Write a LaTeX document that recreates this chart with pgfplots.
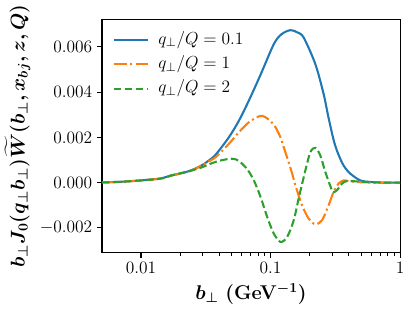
\documentclass[border=0pt]{standalone}
\usepackage{fix-cm}
\usepackage{amsmath}
\usepackage{bm}
\usepackage{pgfplots}
\pgfplotsset{compat=1.18}
\definecolor{tabblue}{HTML}{1F77B4}
\definecolor{taborange}{HTML}{FF7F0E}
\definecolor{tabgreen}{HTML}{2CA02C}
\begin{document}
\begin{tikzpicture}
\path (-72.5pt,-42.5pt) rectangle (226.3pt,182.2pt);
\begin{axis}[
  scale only axis, width=215.5pt, height=168.5pt,
  xmode=log, xmin=0.005, xmax=1, ymin=-0.0031, ymax=0.0072,
  xtick={0.01,0.1,1}, xticklabels={$0.01$,$0.1$,$1$},
  ytick={-0.002,0,0.002,0.004,0.006},
  scaled y ticks=false,
  yticklabel style={/pgf/number format/.cd, fixed, fixed zerofill, precision=3},
  tick align=outside, tick pos=left,
  major tick length=3.5pt, minor tick length=2pt,
  every tick/.style={black, line width=0.8pt},
  minor tick style={line width=0.6pt},
  axis line style={line width=0.8pt},
  ticklabel style={font=\fontsize{12.6}{15}\selectfont},
  label style={font=\fontsize{14.4}{17}\selectfont\boldmath},
  xlabel={$b_\perp$ \textbf{(GeV$^{-1}$)}},
  ylabel={$b_\perp J_0(q_\perp b_\perp)\widetilde{W}(b_\perp, x_{bj}, z, Q)$},
  legend style={draw=none, fill=none, at={(axis description cs:0,1)}, anchor=north west,
    xshift=7.5pt, yshift=-7.5pt, inner sep=0pt, row sep=3.6pt,
    font=\fontsize{12.6}{15}\selectfont,
    nodes={inner sep=1pt, text height=9pt, text depth=3pt},
    /tikz/every odd column/.append style={column sep=6pt}},
  legend cell align=left,
  legend image code/.code={\draw[#1] (0pt,0pt) -- (24.5pt,0pt);},
]
\addplot[tabblue, line width=1.5pt, smooth] table {
0.005 0.00001
0.00702 0.00004
0.010 0.00010
0.01425 0.00019
0.01701 0.00032
0.02031 0.00041
0.02424 0.00054
0.02894 0.00074
0.03306 0.00096
0.03775 0.00124
0.04777 0.00201
0.05705 0.00274
0.06808 0.00363
0.08377 0.00477
0.1060 0.00612
0.1215 0.00656
0.1425 0.00674
0.1613 0.00664
0.1804 0.00641
0.2219 0.00524
0.2570 0.00392
0.2793 0.00292
0.3069 0.00189
0.3274 0.00138
0.3561 0.00089
0.3775 0.00065
0.4125 0.00040
0.4924 0.00010
0.5878 0.00003
0.7667 0.00000
1.0 0.0
};
\addlegendentry{$q_\perp/Q = 0.1$}
\addplot[taborange, line width=1.5pt, smooth, dash pattern=on 9.6pt off 2.4pt on 1.5pt off 2.4pt] table {
0.005 0.00001
0.00702 0.00004
0.010 0.00010
0.01425 0.00018
0.01701 0.00031
0.02031 0.00040
0.02424 0.00052
0.02648 0.00062
0.03162 0.00087
0.03775 0.00113
0.04777 0.00172
0.05705 0.00223
0.06808 0.00267
0.08128 0.00293
0.08679 0.00295
0.09150 0.00289
0.1000 0.00272
0.1093 0.00245
0.1194 0.00200
0.1266 0.00156
0.1344 0.00111
0.1468 0.00041
0.1557 -0.00012
0.1753 -0.00100
0.1971 -0.00159
0.2219 -0.00184
0.2499 -0.00166
0.2807 -0.00100
0.3069 -0.00041
0.3353 -0.00004
0.3663 0.00010
0.4000 0.00007
0.4924 0.00002
0.7017 0.0
1.0 0.0
};
\addlegendentry{$q_\perp/Q = 1$}
\addplot[tabgreen, line width=1.5pt, smooth, dash pattern=on 5.55pt off 2.4pt] table {
0.005 0.00001
0.00702 0.00004
0.010 0.00010
0.01425 0.00018
0.01701 0.00031
0.02031 0.00042
0.02424 0.00053
0.02894 0.00066
0.03563 0.00087
0.04125 0.00098
0.04777 0.00105
0.05193 0.00105
0.05705 0.00096
0.0662 0.00059
0.07439 0.00010
0.08377 -0.00063
0.09433 -0.00152
0.1060 -0.00225
0.1194 -0.00262
0.1344 -0.00240
0.1511 -0.00166
0.1651 -0.00069
0.1858 0.00054
0.2031 0.00135
0.2219 0.00154
0.2424 0.00120
0.2650 0.00047
0.2984 -0.00034
0.3107 -0.00041
0.3274 -0.00032
0.3561 -0.00004
0.3890 0.00007
0.4506 0.00006
0.5675 0.00003
0.7667 0.0
1.0 0.0
};
\addlegendentry{$q_\perp/Q = 2$}
\end{axis}
\end{tikzpicture}
\end{document}
